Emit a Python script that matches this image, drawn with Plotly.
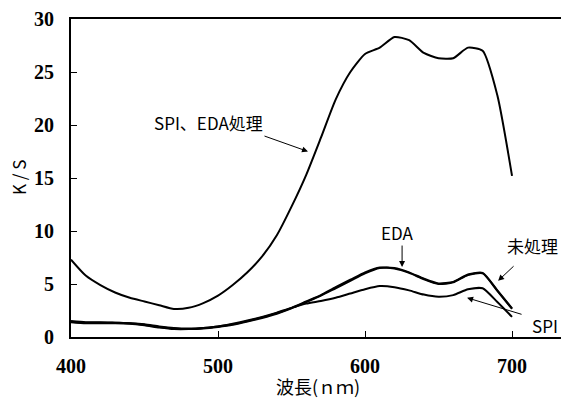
import plotly.graph_objects as go

wavelength = [400, 410, 420, 430, 440, 450, 460, 470, 480, 490, 500, 510, 520, 530, 540, 550,
              560, 570, 580, 590, 600, 610, 620, 630, 640, 650, 660, 670, 680, 690, 700]

spi_eda = [7.3, 5.8, 4.9, 4.2, 3.7, 3.35, 3.0, 2.65, 2.75, 3.2, 3.9, 4.9, 6.1, 7.6, 9.6, 12.3,
           15.3, 18.8, 22.4, 25.0, 26.7, 27.3, 28.3, 28.0, 26.8, 26.3, 26.3, 27.3, 27.0, 22.8, 15.2]

untreated = [1.45, 1.35, 1.35, 1.35, 1.3, 1.15, 0.95, 0.8, 0.75, 0.8, 0.95, 1.15, 1.45, 1.8, 2.2, 2.7,
             3.3, 3.9, 4.6, 5.3, 6.0, 6.5, 6.5, 6.1, 5.5, 5.05, 5.2, 5.9, 6.05, 4.4, 2.7]

eda = [1.5, 1.4, 1.4, 1.35, 1.3, 1.2, 1.0, 0.85, 0.8, 0.85, 1.0, 1.2, 1.5, 1.85, 2.25, 2.75,
       3.35, 3.95, 4.7, 5.4, 6.1, 6.55, 6.45, 6.05, 5.45, 5.0, 5.15, 5.85, 6.0, 4.35, 2.65]

spi = [1.4, 1.3, 1.3, 1.3, 1.25, 1.1, 0.9, 0.75, 0.75, 0.85, 1.0, 1.25, 1.55, 1.9, 2.3, 2.75,
       3.15, 3.4, 3.7, 4.1, 4.5, 4.8, 4.7, 4.4, 4.0, 3.8, 3.95, 4.5, 4.6, 3.3, 1.9]

x_ticks = [400, 500, 600, 700]
y_ticks = [0, 5, 10, 15, 20, 25, 30]

fig = go.Figure()
line_style = dict(color="black", width=2, shape="spline", smoothing=0.6)
for name, ys in [("SPI、EDA処理", spi_eda), ("未処理", untreated), ("EDA", eda), ("SPI", spi)]:
    fig.add_trace(go.Scatter(x=wavelength, y=ys, mode="lines", name=name, line=line_style,
                             showlegend=False, hoverinfo="skip"))

tick_font = dict(family="Liberation Serif", size=20, color="black", weight="bold")
label_font = dict(family="Noto Sans CJK JP", size=17, color="black")

fig.update_xaxes(range=[400, 733.3], tickvals=x_ticks, ticks="inside", ticklen=6, tickwidth=1,
                 tickcolor="black", showline=True, linecolor="black", linewidth=2, mirror=True,
                 showgrid=False, zeroline=False, tickfont=tick_font, ticklabelstandoff=10,
                 automargin=False)
fig.update_yaxes(range=[0, 30], tickvals=y_ticks, ticks="inside", ticklen=6, tickwidth=1,
                 tickcolor="black", showline=True, linecolor="black", linewidth=2,
                 showgrid=False, zeroline=False, tickfont=tick_font, ticklabelstandoff=11,
                 automargin=False)

annotations = [
    dict(x=493.2, y=20.2, text="SPI、EDA処理", showarrow=False),
    dict(x=622.4, y=9.9, text="EDA", showarrow=False),
    dict(x=713.6, y=8.6, text="未処理", showarrow=False),
    dict(x=722.4, y=1.13, text="SPI", showarrow=False),
]
arrows = [
    dict(x=561.2, y=17.5, ax=-45, ay=-16),
    dict(x=625.2, y=6.6, ax=0, ay=-23),
    dict(x=690.5, y=5.3, ax=17, ay=-16),
    dict(x=669.4, y=3.7, ax=56, ay=17),
]
for a in annotations:
    a.update(xref="x", yref="y", font=label_font, xanchor="center", yanchor="middle")
for a in arrows:
    a.update(xref="x", yref="y", text="", showarrow=True, arrowhead=2, arrowsize=1.2,
             arrowwidth=1, arrowcolor="black", standoff=0, startstandoff=0)

titles = [
    dict(x=(318 - 71) / 490, y=-(386 - 337) / 318, text="波長(ｎｍ)", showarrow=False,
         xref="paper", yref="paper", font=dict(family="Noto Sans CJK JP", size=18, color="black"),
         xanchor="center", yanchor="middle"),
    dict(x=-(71 - 18) / 490, y=0.5, text="K / S", showarrow=False, textangle=-90,
         xref="paper", yref="paper", font=dict(family="Noto Sans CJK JP", size=17, color="black"),
         xanchor="center", yanchor="middle"),
]

fig.update_layout(width=561, height=405, margin=dict(l=71, r=0, t=19, b=68, autoexpand=False),
                  paper_bgcolor="white", plot_bgcolor="white",
                  annotations=annotations + arrows + titles)

fig.write_html("out.html", config={"displayModeBar": False},
               post_script="document.body.style.margin='0';document.body.style.overflow='hidden';")
